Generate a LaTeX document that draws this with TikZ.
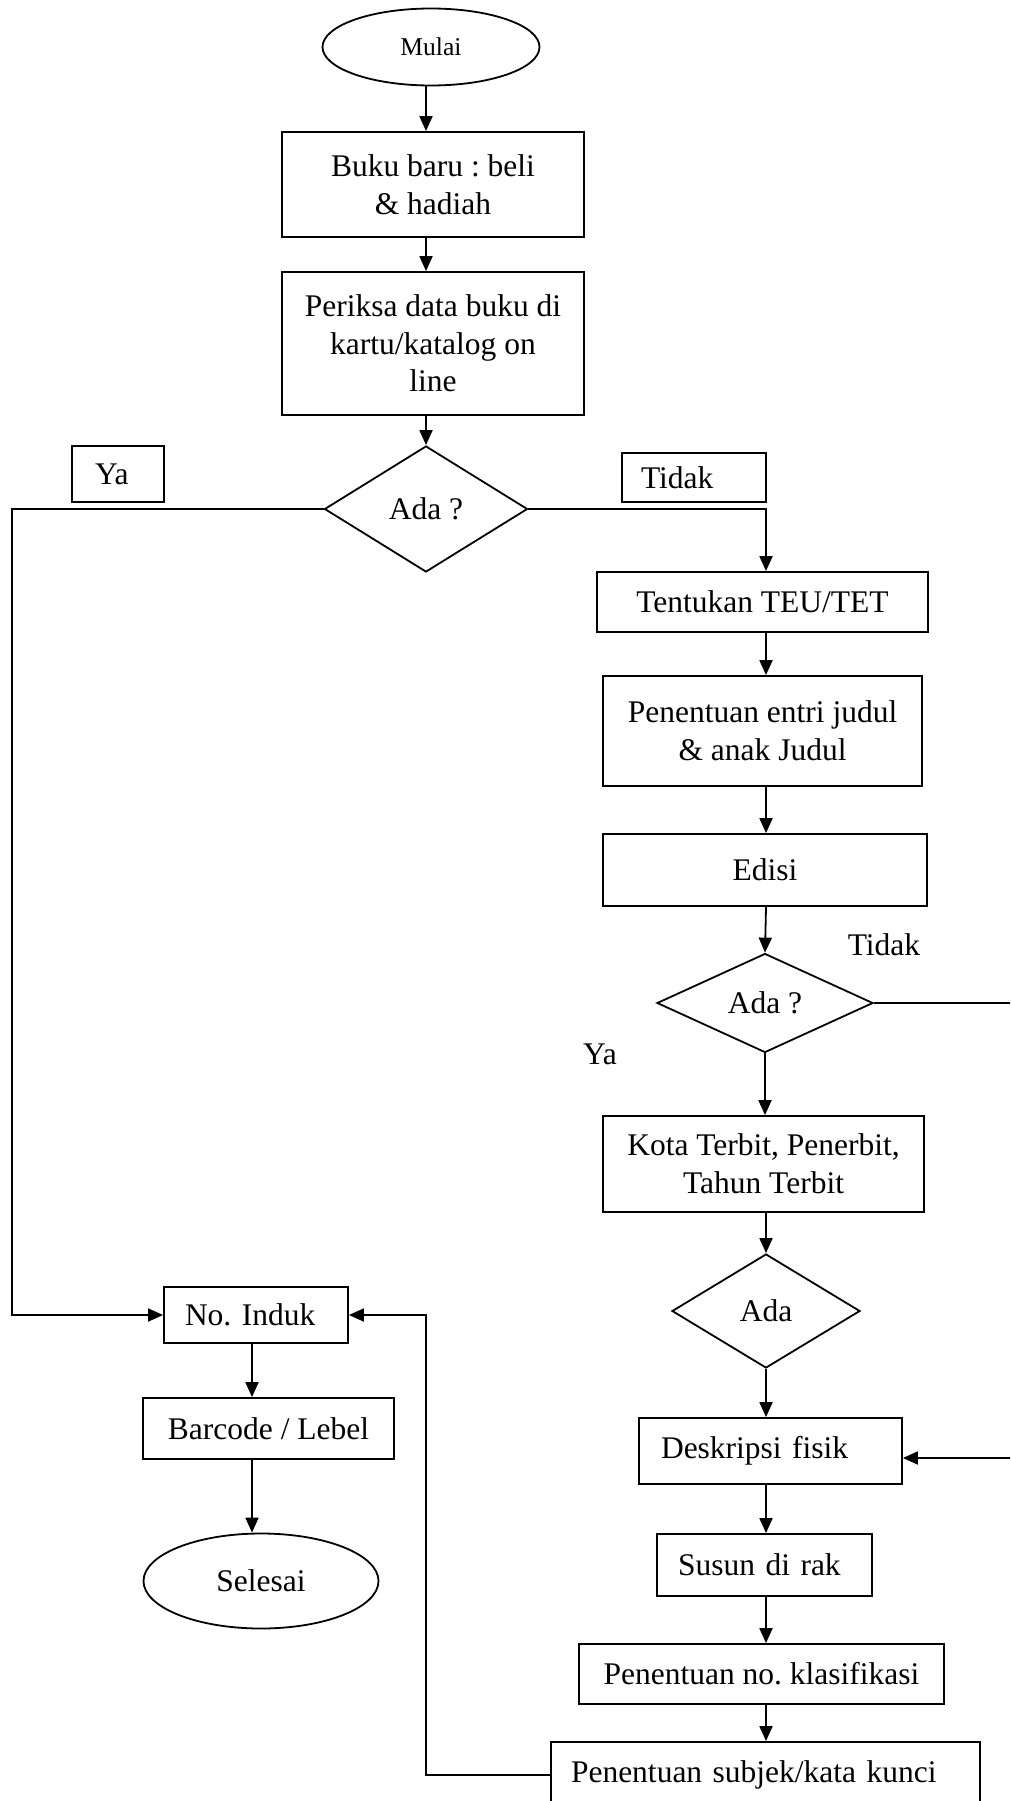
\documentclass[tikz,border=0pt]{standalone}
\usepackage{fontspec}
\setmainfont{Liberation Serif}
\usetikzlibrary{shapes.geometric,arrows.meta}
\newcommand\fsmain{\fontsize{31.5pt}{37.7pt}\selectfont}
\newcommand\fssmall{\fontsize{25.6pt}{30pt}\selectfont}
\frenchspacing
\begin{document}
\frenchspacing
\begin{tikzpicture}[x=1pt,y=-1pt,
  base/.style={draw,line width=1.8pt,inner sep=0pt,font=\fsmain\frenchspacing,align=center},
  box/.style={base,rectangle},
  lbox/.style 2 args={box,align=left,inner xsep=#1,text width=#2},
  dia/.style={base,diamond},
  term/.style={base,ellipse},
  lbl/.style={inner sep=0pt,font=\fsmain},
  arr/.style={line width=1.8pt,-{Triangle[length=15pt,width=13pt]}},
  ln/.style={line width=1.8pt}]
\useasboundingbox (0,0) rectangle (1010,1801);
\fill[white] (0,0) rectangle (1010,1801);
\clip (0,0) rectangle (1010,1801);

% column coordinates
\coordinate (cl) at (426,0);
\coordinate (cr) at (766,0);
\coordinate (cb) at (252,0);

% top column
\node[term,font=\fssmall,minimum width=217pt,minimum height=77pt] (mulai) at (431,47) {Mulai};
\node[box,minimum width=302pt,minimum height=105pt] (b1) at (433,184.5) {Buku baru : beli\\\& hadiah};
\node[box,minimum width=302pt,minimum height=143pt] (b2) at (433,343.5) {Periksa data buku di\\kartu/katalog on\\line};
\node[dia,aspect=1,minimum width=203pt,minimum height=126pt] (d1) at (426,509) {Ada ?};

% label boxes
\node[lbox={23pt}{46pt},minimum height=56pt] (ya1) at (118,474) {Ya};
\node[lbox={19pt}{106pt},minimum height=49pt] (tidak1) at (694,477.5) {Tidak};

% right column
\node[box,minimum width=331pt,minimum height=60pt] (teu) at (762.5,602) {Tentukan TEU/TET};
\node[box,minimum width=319pt,minimum height=110pt] (entri) at (762.5,731) {Penentuan entri judul\\\& anak Judul};
\node[box,minimum width=324pt,minimum height=72pt] (edisi) at (765,870) {Edisi};
\node[dia,aspect=2,minimum width=216pt,minimum height=99pt] (d2) at (765,1003) {Ada ?};
\node[lbl] (tidak2) at (884,945) {Tidak};
\node[lbl] (ya2) at (600,1054) {Ya};
\node[box,minimum width=321pt,minimum height=96pt] (kota) at (763.5,1164) {Kota Terbit, Penerbit,\\Tahun Terbit};
\node[dia,aspect=1,minimum width=188pt,minimum height=114pt] (d3) at (766,1311) {Ada};
\node[lbox={22pt}{219pt},minimum height=66pt] (desk) at (770.5,1451) {Deskripsi fisik};
\node[lbox={21pt}{173pt},minimum height=62pt] (susun) at (764.5,1565) {Susun di rak};
\node[box,minimum width=365pt,minimum height=60pt] (klas) at (761.5,1674) {Penentuan no. klasifikasi};
\node[lbox={20pt}{389pt},minimum height=66pt] (subj) at (765.5,1775) {Penentuan subjek/kata kunci};

% left column
\node[lbox={21pt}{142pt},minimum height=56pt] (induk) at (256,1315) {No. Induk};
\node[box,minimum width=251pt,minimum height=61pt] (bar) at (268.5,1428.5) {Barcode / Lebel};
\node[term,minimum width=235pt,minimum height=95pt] (selesai) at (261,1581) {Selesai};

% helper coordinates for bends
\coordinate (lx) at (12,509);
\coordinate (re) at (1016,1003);
\coordinate (rl) at (426,1775);

% connectors
\draw[arr] (mulai.south -| cl) -- (b1.north -| cl);
\draw[arr] (b1.south -| cl) -- (b2.north -| cl);
\draw[arr] (b2.south -| cl) -- (d1.north);
\draw[arr] (d1.east) -| (teu.north -| cr);
\draw[arr] (d1.west) -- (lx) |- (induk.west);
\draw[arr] (teu.south -| cr) -- (entri.north -| cr);
\draw[arr] (entri.south -| cr) -- (edisi.north -| cr);
\draw[arr] (edisi.south -| cr) -- (d2.north);
\draw[arr] (d2.south) -- (kota.north -| d2.south);
\draw[arr] (kota.south -| cr) -- (d3.north);
\draw[arr] (d3.south) -- (desk.north -| d3.south);
\draw[arr] (desk.south -| cr) -- (susun.north -| cr);
\draw[arr] (susun.south -| cr) -- (klas.north -| cr);
\draw[arr] (klas.south -| cr) -- (subj.north -| cr);
\draw[arr] (d2.east) -- (re) |- ([yshift=-7pt]desk.east);
\draw[arr] (subj.west) -- (rl) |- (induk.east);
\draw[arr] (induk.south -| cb) -- (bar.north -| cb);
\draw[arr] (bar.south -| cb) -- (selesai.north -| cb);
\end{tikzpicture}
\end{document}
